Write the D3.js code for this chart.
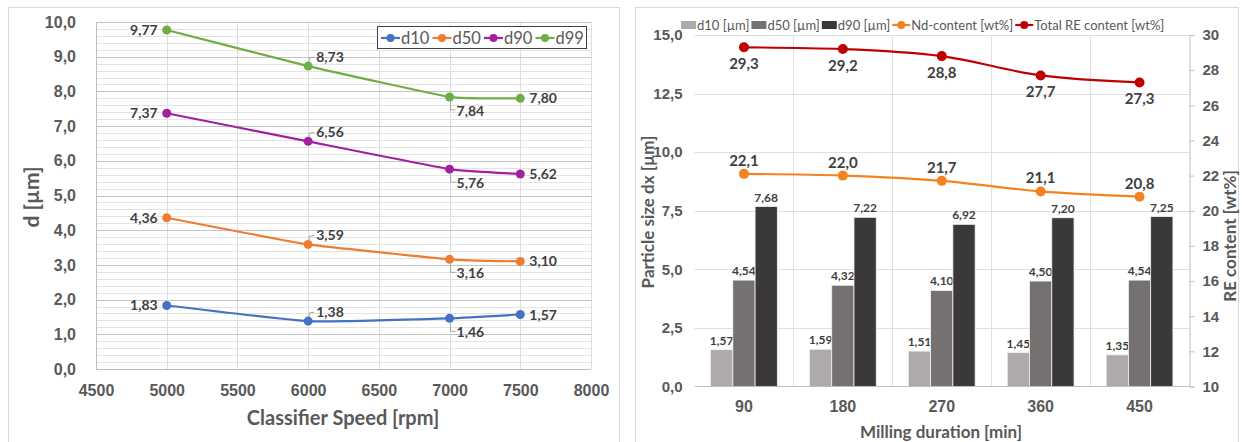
<!DOCTYPE html>
<html>
<head>
<meta charset="utf-8">
<script src="https://cdn.jsdelivr.net/npm/d3@7"></script>
<style>
  body { margin: 0; background: #fff; }
  svg { font-family: Lato, "Open Sans", sans-serif; }
</style>
</head>
<body>
<svg id="chart" width="1242" height="442"></svg>
<script>
// ---------- data ----------
const speeds = [5000, 6000, 7000, 7500];
const d10 = [1.83, 1.38, 1.46, 1.57];
const d50 = [4.36, 3.59, 3.16, 3.10];
const d90 = [7.37, 6.56, 5.76, 5.62];
const d99 = [9.77, 8.73, 7.84, 7.80];
const leftSeriesNames = ['d10', 'd50', 'd90', 'd99'];

const durations = ['90', '180', '270', '360', '450'];
const bar10 = [1.57, 1.59, 1.51, 1.45, 1.35];
const bar50 = [4.54, 4.32, 4.10, 4.50, 4.54];
const bar90 = [7.68, 7.22, 6.92, 7.20, 7.25];
const ndContent = [22.1, 22.0, 21.7, 21.1, 20.8];
const reContent = [29.3, 29.2, 28.8, 27.7, 27.3];
const barNames = ['d10 [µm]', 'd50 [µm]', 'd90 [µm]'];
const lineNames = ['Nd-content [wt%]', 'Total RE content [wt%]'];

const leftYTicks = d3.range(0, 10.01, 1);
const leftXTicks = d3.range(4500, 8001, 500);
const rightYTicks = d3.range(0, 15.01, 2.5);
const reTicks = d3.range(10, 30.01, 2);

const fmt1 = d3.format('.1f'), fmt2 = d3.format('.2f');
const comma = s => s.replace('.', ',');

const svg = d3.select('#chart');
const txt = '#595959', lbl = '#404040';

//==================== LEFT CHART ====================
svg.append('rect').attr('x', 8.5).attr('y', 7.5).attr('width', 611).attr('height', 450)
  .attr('fill', 'none').attr('stroke', '#d9d9d9');

const lx = d3.scaleLinear().domain([4500, 8000]).range([96, 591]);
const ly = d3.scaleLinear().domain([0, 10]).range([369, 22]);

const gL = svg.append('g');

// minor gridlines
gL.append('g').selectAll('line').data(d3.range(0, 10.01, 0.2).filter(v => Math.abs(v - Math.round(v)) > 0.01))
  .join('line')
  .attr('x1', lx(4500)).attr('x2', lx(8000))
  .attr('y1', d => Math.round(ly(d)) + 0.5).attr('y2', d => Math.round(ly(d)) + 0.5)
  .attr('stroke', '#e3e3e3');
// vertical gridlines
gL.append('g').selectAll('line').data(leftXTicks)
  .join('line')
  .attr('x1', d => Math.round(lx(d)) + 0.5).attr('x2', d => Math.round(lx(d)) + 0.5)
  .attr('y1', ly(10)).attr('y2', ly(0))
  .attr('stroke', d => d === 4500 ? '#bfbfbf' : '#dedede');
// major gridlines
gL.append('g').selectAll('line').data(leftYTicks)
  .join('line')
  .attr('x1', lx(4500)).attr('x2', lx(8000))
  .attr('y1', d => Math.round(ly(d)) + 0.5).attr('y2', d => Math.round(ly(d)) + 0.5)
  .attr('stroke', d => d === 0 ? '#bfbfbf' : '#c4c4c4');

// axes
const yAxisL = d3.axisLeft(ly).tickValues(leftYTicks).tickSize(0).tickPadding(20).tickFormat(d => comma(fmt1(d)));
gL.append('g').attr('transform', `translate(${lx(4500)},0)`).call(yAxisL)
  .call(g => g.select('.domain').remove())
  .selectAll('text').attr('fill', txt).attr('font-size', 16).attr('font-weight', 700);

const xAxisL = d3.axisBottom(lx).tickValues(leftXTicks).tickSize(0).tickPadding(16).tickFormat(d3.format('d'));
gL.append('g').attr('transform', `translate(0,${ly(0)})`).call(xAxisL)
  .call(g => g.select('.domain').remove())
  .selectAll('text').attr('fill', txt).attr('font-size', 16).attr('font-weight', 700);

gL.append('text').attr('transform', 'translate(39,197) rotate(-90)')
  .attr('text-anchor', 'middle').attr('fill', txt).attr('font-size', 21).attr('font-weight', 700)
  .text('d [µm]');
gL.append('text').attr('x', 343).attr('y', 425)
  .attr('text-anchor', 'middle').attr('fill', txt).attr('font-size', 20).attr('font-weight', 700)
  .text('Classifier Speed [rpm]');

const leftColors = ['#4472c4', '#ed7d31', '#a21f9e', '#70ad47'];
const leftSeries = [d10, d50, d90, d99];
const labelPos = ['left', 'above', 'below', 'right'];

const lineL = d3.line().x(d => lx(d[0])).y(d => ly(d[1])).curve(d3.curveCardinal.tension(0.65));

leftSeries.forEach((vals, s) => {
  const pts = speeds.map((x, i) => [x, vals[i]]);
  const g = gL.append('g');
  g.append('path').attr('d', lineL(pts)).attr('fill', 'none')
    .attr('stroke', leftColors[s]).attr('stroke-width', 2.2);
  g.selectAll('circle').data(pts).join('circle')
    .attr('cx', d => lx(d[0])).attr('cy', d => ly(d[1])).attr('r', 4.5)
    .attr('fill', leftColors[s]);
  pts.forEach((d, i) => {
    const px = lx(d[0]), py = ly(d[1]);
    const t = g.append('text').attr('fill', lbl).attr('font-size', 14).attr('font-weight', 700)
      .text(comma(fmt2(d[1])));
    if (labelPos[i] === 'left') {
      t.attr('x', px - 9).attr('y', py + 5).attr('text-anchor', 'end');
    } else if (labelPos[i] === 'right') {
      t.attr('x', px + 9).attr('y', py + 5);
    } else if (labelPos[i] === 'above') {
      t.attr('x', px + 8).attr('y', py - 4);
      g.append('path').attr('d', `M${px + 1},${py - 4} L${px + 1},${py - 8} L${px + 6},${py - 9}`)
        .attr('fill', 'none').attr('stroke', '#a6a6a6');
    } else {
      t.attr('x', px + 7).attr('y', py + 19);
      g.append('path').attr('d', `M${px + 1},${py + 4} L${px + 1},${py + 13} L${px + 6},${py + 13}`)
        .attr('fill', 'none').attr('stroke', '#a6a6a6');
    }
  });
});

// legend left
const legL = gL.append('g');
legL.append('rect').attr('x', 377.5).attr('y', 26.5).attr('width', 209).attr('height', 22)
  .attr('fill', '#fff').attr('stroke', '#404040');
leftSeriesNames.forEach((n, s) => {
  const x0 = 381 + s * 51.5, yy = 38;
  legL.append('line').attr('x1', x0).attr('x2', x0 + 19).attr('y1', yy).attr('y2', yy)
    .attr('stroke', leftColors[s]).attr('stroke-width', 2.2);
  legL.append('circle').attr('cx', x0 + 9.5).attr('cy', yy).attr('r', 4).attr('fill', leftColors[s]);
  legL.append('text').attr('x', x0 + 20).attr('y', yy + 6)
    .attr('fill', txt).attr('font-size', 16.5).text(n);
});

//==================== RIGHT CHART ====================
svg.append('rect').attr('x', 635.5).attr('y', 7.5).attr('width', 603).attr('height', 450)
  .attr('fill', 'none').attr('stroke', '#d9d9d9');

const rx = d3.scaleBand().domain(durations).range([694.5, 1189]);
const ry = d3.scaleLinear().domain([0, 15]).range([386.5, 35]);
const ry2 = d3.scaleLinear().domain([10, 30]).range([386.5, 35]);
const gR = svg.append('g');

// gridlines
gR.append('g').selectAll('line').data(rightYTicks.slice(1))
  .join('line')
  .attr('x1', 694.5).attr('x2', 1189)
  .attr('y1', d => Math.round(ry(d)) + 0.5).attr('y2', d => Math.round(ry(d)) + 0.5)
  .attr('stroke', '#e0e0e0');
gR.append('g').selectAll('line').data(durations.slice(1))
  .join('line')
  .attr('x1', d => Math.round(rx(d)) + 0.5).attr('x2', d => Math.round(rx(d)) + 0.5)
  .attr('y1', ry(15)).attr('y2', ry(0))
  .attr('stroke', '#e0e0e0');

// bars
const barColors = ['#aeaaaa', '#767171', '#3b3838'];
const barSeries = [bar10, bar50, bar90];
const groupW = rx.bandwidth() * 0.675;
const sub = d3.scaleBand().domain([0, 1, 2]).range([0, groupW]);
const gBars = gR.append('g');
barSeries.forEach((vals, s) => {
  durations.forEach((c, i) => {
    const x0 = rx(c) + (rx.bandwidth() - groupW) / 2 + sub(s);
    gBars.append('rect').attr('x', x0).attr('width', sub.bandwidth())
      .attr('y', ry(vals[i])).attr('height', ry(0) - ry(vals[i]))
      .attr('fill', barColors[s]).attr('stroke', '#f2f2f2').attr('stroke-width', 0.8);
    gBars.append('text').attr('x', x0 + sub.bandwidth() / 2).attr('y', ry(vals[i]) - 5)
      .attr('text-anchor', 'middle').attr('fill', lbl).attr('font-size', 12).attr('font-weight', 700)
      .text(comma(fmt2(vals[i])));
  });
});

// axes lines
gR.append('line').attr('x1', 694.5).attr('x2', 1189).attr('y1', 386.5).attr('y2', 386.5).attr('stroke', '#bfbfbf');

const yAxisR = d3.axisLeft(ry).tickValues(rightYTicks).tickSize(0).tickPadding(12).tickFormat(d => comma(fmt1(d)));
gR.append('g').attr('transform', 'translate(694.5,0)').call(yAxisR)
  .call(g => g.select('.domain').remove())
  .selectAll('text').attr('fill', txt).attr('font-size', 15).attr('font-weight', 600);

const yAxisR2 = d3.axisRight(ry2).tickValues(reTicks).tickSize(5).tickPadding(8).tickFormat(d3.format('d'));
gR.append('g').attr('transform', 'translate(1189.5,0)').call(yAxisR2)
  .call(g => g.select('.domain').attr('stroke', '#bfbfbf'))
  .call(g => g.selectAll('.tick line').attr('stroke', '#bfbfbf'))
  .selectAll('text').attr('fill', txt).attr('font-size', 15).attr('font-weight', 600);

const xAxisR = d3.axisBottom(rx).tickSize(0).tickPadding(14);
gR.append('g').attr('transform', 'translate(0,386.5)').call(xAxisR)
  .call(g => g.select('.domain').remove())
  .selectAll('text').attr('fill', txt).attr('font-size', 16).attr('font-weight', 700);

gR.append('text').attr('transform', 'translate(654,212) rotate(-90)')
  .attr('text-anchor', 'middle').attr('fill', txt).attr('font-size', 17).attr('font-weight', 700)
  .text('Particle size dx [µm]');
gR.append('text').attr('transform', 'translate(1236,236) rotate(-90)')
  .attr('text-anchor', 'middle').attr('fill', txt).attr('font-size', 17).attr('font-weight', 700)
  .text('RE content [wt%]');
gR.append('text').attr('x', 941).attr('y', 438)
  .attr('text-anchor', 'middle').attr('fill', txt).attr('font-size', 17).attr('font-weight', 700)
  .text('Milling duration [min]');

// lines on secondary axis
const lineColors = ['#f58220', '#c00000'];
const lineSeries = [ndContent, reContent];
const lineR = d3.line().x((d, i) => rx(durations[i]) + rx.bandwidth() / 2).y(d => ry2(d)).curve(d3.curveMonotoneX);
lineSeries.forEach((vals, s) => {
  const g = gR.append('g');
  g.append('path').attr('d', lineR(vals)).attr('fill', 'none')
    .attr('stroke', lineColors[s]).attr('stroke-width', 2.2);
  g.selectAll('circle').data(vals).join('circle')
    .attr('cx', (d, i) => rx(durations[i]) + rx.bandwidth() / 2).attr('cy', d => ry2(d)).attr('r', 5)
    .attr('fill', lineColors[s]);
  g.selectAll('text').data(vals).join('text')
    .attr('x', (d, i) => rx(durations[i]) + rx.bandwidth() / 2)
    .attr('y', d => s === 0 ? ry2(d) - 8 : ry2(d) + 22)
    .attr('text-anchor', 'middle').attr('fill', lbl).attr('font-size', 15).attr('font-weight', 700)
    .text(d => comma(fmt1(d)));
});

// legend right
const legR = gR.append('g');
let rxPos = 681;
const legY = 25;
barNames.forEach((n, s) => {
  legR.append('rect').attr('x', rxPos).attr('y', legY - 4).attr('width', 15).attr('height', 8).attr('fill', barColors[s]);
  const t = legR.append('text').attr('x', rxPos + 16).attr('y', legY + 4.5)
    .attr('fill', txt).attr('font-size', 13).text(n);
  rxPos += 16 + t.node().getComputedTextLength() + 2;
});
lineNames.forEach((n, s) => {
  legR.append('line').attr('x1', rxPos).attr('x2', rxPos + 18).attr('y1', legY).attr('y2', legY)
    .attr('stroke', lineColors[s]).attr('stroke-width', 2.2);
  legR.append('circle').attr('cx', rxPos + 9).attr('cy', legY).attr('r', 4).attr('fill', lineColors[s]);
  const t = legR.append('text').attr('x', rxPos + 19).attr('y', legY + 4.5)
    .attr('fill', txt).attr('font-size', 13).text(n);
  rxPos += 19 + t.node().getComputedTextLength() + 2;
});
</script>
</body>
</html>
